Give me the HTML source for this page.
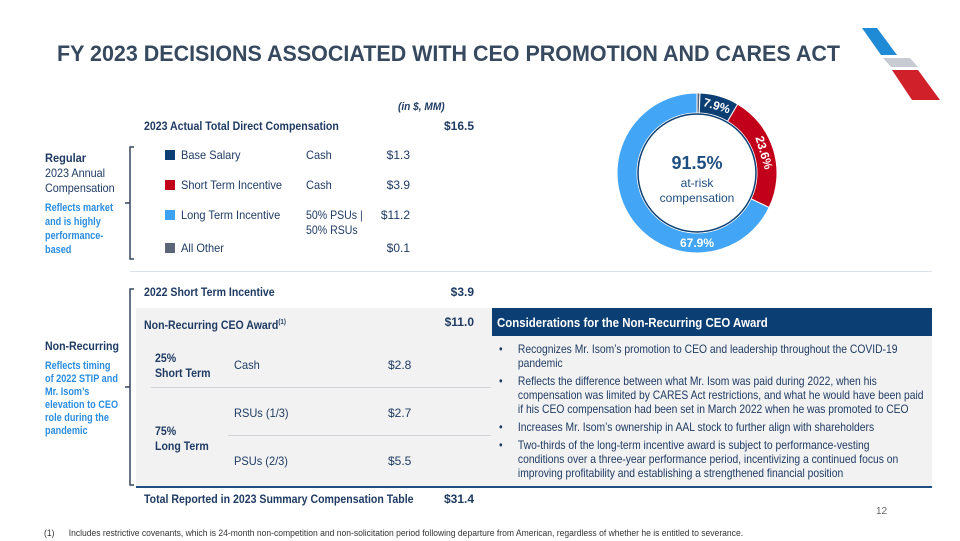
<!DOCTYPE html>
<html><head><meta charset="utf-8"><style>
body{margin:0;width:960px;height:540px;background:#fff;position:relative;overflow:hidden;font-family:"Liberation Sans",sans-serif;color:#1f3b63}
.a{position:absolute;white-space:nowrap;font-size:12px;line-height:15px;transform-origin:left top}
.n{transform:scaleX(0.92)}
.bn{transform:scaleX(0.88)}
.b{font-weight:bold}
.lb{color:#2a8de0;font-weight:bold;font-size:11px;line-height:14px;transform:scaleX(0.83)}
.sq{position:absolute;width:10px;height:10px}
.r{text-align:right}
</style></head><body>
<svg style="position:absolute;left:0;top:0" width="960" height="80"><text x="57" y="61" textLength="783" lengthAdjust="spacingAndGlyphs" font-family="Liberation Sans" font-weight="bold" font-size="22" fill="#36495e">FY 2023 DECISIONS ASSOCIATED WITH CEO PROMOTION AND CARES ACT</text></svg>
<svg style="position:absolute;top:25px;left:860px" width="80" height="75">
<polygon points="2,3 17,3 37,30 21,30" fill="#1f8ad6"/>
<polygon points="23,33 50,33 58,42 31,42" fill="#c8ccd2"/>
<polygon points="32,45 58,45 80,75 52,75" fill="#d0202a"/>
</svg>
<div class="a n" style="left:398px;top:100px;font-style:italic;font-weight:bold;font-size:11px">(in $, MM)</div>
<div class="a b bn" style="left:144px;top:119px">2023 Actual Total Direct Compensation</div>
<div class="a b r" style="left:420px;width:54px;top:119px">$16.5</div>

<div class="a b n" style="left:45px;top:151px">Regular</div>
<div class="a n" style="left:45px;top:166px;line-height:15px;transform:scaleX(0.9)">2023 Annual<br>Compensation</div>
<div class="a lb" style="left:45px;top:201px">Reflects market<br>and is highly<br>performance-<br>based</div>
<svg style="position:absolute;left:124px;top:146px" width="12" height="116"><path d="M10,1 H6 V113 H10 M6,57 H1" stroke="#33475f" stroke-width="1.5" fill="none"/></svg>

<div class="sq" style="left:165px;top:150px;background:#0b3e73"></div>
<div class="a n" style="left:181px;top:148px">Base Salary</div><div class="a n" style="left:306px;top:148px">Cash</div><div class="a r" style="left:370px;width:40px;top:148px">$1.3</div>
<div class="sq" style="left:165px;top:180px;background:#c30019"></div>
<div class="a n" style="left:181px;top:178px">Short Term Incentive</div><div class="a n" style="left:306px;top:178px">Cash</div><div class="a r" style="left:370px;width:40px;top:178px">$3.9</div>
<div class="sq" style="left:165px;top:210px;background:#3ea2f2"></div>
<div class="a n" style="left:181px;top:208px">Long Term Incentive</div><div class="a n" style="left:306px;top:208px;line-height:15px;transform:scaleX(0.88)">50% PSUs |<br>50% RSUs</div><div class="a r" style="left:370px;width:40px;top:208px">$11.2</div>
<div class="sq" style="left:165px;top:243px;background:#5a6578"></div>
<div class="a n" style="left:181px;top:241px">All Other</div><div class="a r" style="left:370px;width:40px;top:241px">$0.1</div>

<svg id="donut" style="position:absolute;left:607px;top:83px" width="180" height="180"></svg>

<div style="position:absolute;left:130px;top:271px;width:802px;height:1px;background:#dde3ea"></div>

<div class="a b bn" style="left:144px;top:285px">2022 Short Term Incentive</div>
<div class="a b r" style="left:420px;width:54px;top:285px">$3.9</div>
<div style="position:absolute;left:136px;top:308px;width:796px;height:178px;background:#f2f2f2"></div>
<div style="position:absolute;left:136px;top:486px;width:796px;height:2px;background:#1f4e80"></div>
<div style="position:absolute;left:151px;top:387px;width:340px;height:1px;background:#d0d4d8"></div>
<div style="position:absolute;left:228px;top:435px;width:263px;height:1px;background:#d0d4d8"></div>
<div class="a b bn" style="left:144px;top:315px">Non-Recurring CEO Award<sup style="font-size:7px">(1)</sup></div>
<div class="a b r" style="left:420px;width:54px;top:315px">$11.0</div>
<div class="a b bn" style="left:155px;top:351px;line-height:15px">25%<br>Short Term</div>
<div class="a n" style="left:234px;top:358px">Cash</div><div class="a" style="left:388px;top:358px">$2.8</div>
<div class="a n" style="left:234px;top:406px">RSUs (1/3)</div><div class="a" style="left:388px;top:406px">$2.7</div>
<div class="a b bn" style="left:155px;top:424px;line-height:15px">75%<br>Long Term</div>
<div class="a n" style="left:234px;top:454px">PSUs (2/3)</div><div class="a" style="left:388px;top:454px">$5.5</div>
<div class="a b bn" style="left:144px;top:492px">Total Reported in 2023 Summary Compensation Table</div>
<div class="a b r" style="left:420px;width:54px;top:492px">$31.4</div>

<div class="a b bn" style="left:45px;top:339px">Non-Recurring</div>
<div class="a lb" style="left:45px;top:360px;line-height:13px">Reflects timing<br>of 2022 STIP and<br>Mr. Isom’s<br>elevation to CEO<br>role during the<br>pandemic</div>
<svg style="position:absolute;left:124px;top:288px" width="12" height="200"><path d="M10,1 H6 V197 H10 M6,99 H1" stroke="#33475f" stroke-width="1.5" fill="none"/></svg>

<div style="position:absolute;left:492px;top:308px;width:440px;height:28px;background:#0b3e73"></div>
<div class="a b bn" style="left:497px;top:315px;color:#fff;font-size:13px">Considerations for the Non-Recurring CEO Award</div>
<div class="a" style="left:499px;top:342px;font-size:12px;line-height:14px;transform:scaleX(0.86)">
<div style="padding-left:22px;position:relative;margin-bottom:4px"><span style="position:absolute;left:0">•</span>Recognizes Mr. Isom’s promotion to CEO and leadership throughout the COVID-19<br>pandemic</div>
<div style="padding-left:22px;position:relative;margin-bottom:4px"><span style="position:absolute;left:0">•</span>Reflects the difference between what Mr. Isom was paid during 2022, when his<br>compensation was limited by CARES Act restrictions, and what he would have been paid<br>if his CEO compensation had been set in March 2022 when he was promoted to CEO</div>
<div style="padding-left:22px;position:relative;margin-bottom:4px"><span style="position:absolute;left:0">•</span>Increases Mr. Isom’s ownership in AAL stock to further align with shareholders</div>
<div style="padding-left:22px;position:relative"><span style="position:absolute;left:0">•</span>Two-thirds of the long-term incentive award is subject to performance-vesting<br>conditions over a three-year performance period, incentivizing a continued focus on<br>improving profitability and establishing a strengthened financial position</div>
</div>
<div class="a" style="left:876px;top:504px;font-size:10px;color:#666">12</div>
<div class="a" style="left:44px;top:526px;font-size:9px;color:#333;transform:scaleX(0.95)">(1)&nbsp;&nbsp;&nbsp;&nbsp;&nbsp;&nbsp;Includes restrictive covenants, which is 24-month non-competition and non-solicitation period following departure from American, regardless of whether he is entitled to severance.</div>

<script>
const sliceNames=["All Other","Base Salary","Short Term Incentive","Long Term Incentive"];
const sliceValues=[0.6,7.9,23.6,67.9];
const sliceLabels=["","7.9%","23.6%","67.9%"];
const sliceColors=["#5a6578","#0b3e73","#c30019","#42a5f5"];
const svg=document.getElementById('donut');
const NS="http://www.w3.org/2000/svg";
const cx=90,cy=90,ro=80,ri=60;
const total=sliceValues.reduce((a,b)=>a+b,0);
function pt(r,a){return [cx+r*Math.sin(a),cy-r*Math.cos(a)];}
let acc=0;
sliceValues.forEach((v,i)=>{
  const a0=acc/total*2*Math.PI, a1=(acc+v)/total*2*Math.PI; acc+=v;
  const big=(a1-a0)>Math.PI?1:0;
  const [x0,y0]=pt(ro,a0),[x1,y1]=pt(ro,a1),[x2,y2]=pt(ri,a1),[x3,y3]=pt(ri,a0);
  const p=document.createElementNS(NS,'path');
  p.setAttribute('d',`M${x0},${y0}A${ro},${ro} 0 ${big} 1 ${x1},${y1}L${x2},${y2}A${ri},${ri} 0 ${big} 0 ${x3},${y3}Z`);
  p.setAttribute('fill',sliceColors[i]);p.setAttribute('stroke','#fff');p.setAttribute('stroke-width','1');
  
  
  svg.appendChild(p);
  if(sliceLabels[i]){
    let am=(a0+a1)/2;
    if(a0<Math.PI && a1>Math.PI) am=Math.PI;
    const [lx,ly]=pt(70,am);
    const t=document.createElementNS(NS,'text');
    t.setAttribute('x',lx);t.setAttribute('y',ly+4);t.setAttribute('text-anchor','middle');
    t.setAttribute('font-family','Liberation Sans');t.setAttribute('font-weight','bold');t.setAttribute('font-size','12');
    t.setAttribute('fill','#fff');
    let deg=am*180/Math.PI; if(deg>=90&&deg<=270)deg=0;
    t.setAttribute('transform',`rotate(${deg} ${lx} ${ly})`);
    t.textContent=sliceLabels[i];
    
    
    svg.appendChild(t);
  }
});
const c=document.createElementNS(NS,'circle');
c.setAttribute('cx',cx);c.setAttribute('cy',cy);c.setAttribute('r',ri-1);c.setAttribute('fill','#fff');c.setAttribute('stroke','#0b3e73');c.setAttribute('stroke-width','1.5');
svg.appendChild(c);
[["91.5%",86,18,"bold"],["at-risk",104,12,"normal"],["compensation",119,12,"normal"]].forEach(d=>{
  const t=document.createElementNS(NS,'text');
  t.setAttribute('x',cx);t.setAttribute('y',d[1]);t.setAttribute('text-anchor','middle');
  t.setAttribute('font-family','Liberation Sans');t.setAttribute('font-size',d[2]);t.setAttribute('font-weight',d[3]);t.setAttribute('fill','#1f4e80');
  t.textContent=d[0];
  
  
  svg.appendChild(t);
});
</script>
</body></html>
